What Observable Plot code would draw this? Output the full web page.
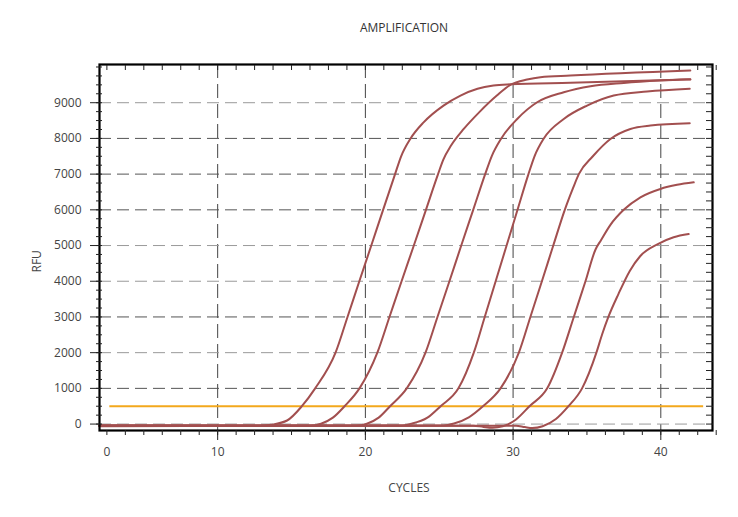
<!DOCTYPE html>
<html><head><meta charset="utf-8">
<script src="https://cdn.jsdelivr.net/npm/d3@7"></script>
<script src="https://cdn.jsdelivr.net/npm/@observablehq/plot@0.6"></script>
<style>
html,body{margin:0;padding:0;background:#fff;}
#chart svg{display:block;}
</style></head><body><div id="chart"></div>
<script>
const title = "AMPLIFICATION";
const xLabel = "CYCLES";
const yLabel = "RFU";
const xTickValues = [2.5, 10, 20, 30, 40];
const xTickLabels = ["0", "10", "20", "30", "40"];
const yTickValues = [0, 1000, 2000, 3000, 4000, 5000, 6000, 7000, 8000, 9000];
const yGridDark = [1000, 3000, 6000, 7000, 8000];
const yGridLight = [0, 2000, 4000, 5000, 9000];
const xGrid = [10, 20, 30, 40];
const threshold = 500;
const thresholdStart = 2.7, thresholdEnd = 42.9;

const curve1 = [[2,-60],[8,-55],[12.8,-55],[13.6,-20],[14.7,100],[15.7,500],[16.6,1000],[17.98,2000],[18.79,3000],[19.59,4000],[20.4,5000],[21.2,6000],[22.01,7000],[22.42,7500],[23.06,8000],[23.94,8450],[25.29,8920],[26.44,9200],[27.59,9390],[28.67,9480],[29.82,9515],[33.88,9560],[42,9650]];
const curve2 = [[2,-50],[10,-45],[16.3,-50],[17.0,10],[17.8,180],[18.59,500],[19.6,1000],[20.81,2000],[21.63,3000],[22.45,4000],[23.28,5000],[24.1,6000],[24.92,7000],[25.27,7400],[25.8,7800],[26.66,8265],[27.7,8730],[28.9,9200],[29.82,9500],[30.95,9650],[31.85,9715],[33.88,9760],[42,9900]];
const curve3 = [[2,-40],[12,-45],[19.4,-45],[20.1,10],[20.9,180],[21.67,500],[22.8,1000],[24.07,2000],[24.88,3000],[25.69,4000],[26.49,5000],[27.3,6000],[28.11,7000],[28.55,7500],[29.2,8000],[30.28,8545],[31.63,9012],[33.43,9293],[35.24,9463],[37.49,9555],[39.97,9620],[42,9655]];
const curve4 = [[2,-40],[15,-40],[22.4,-40],[23.1,10],[24.2,180],[25.09,500],[26.3,1000],[27.34,2000],[28.08,3000],[28.82,4000],[29.56,5000],[30.3,6000],[31.04,7000],[31.45,7500],[32.08,8000],[33.43,8545],[35.01,8920],[36.81,9200],[39.07,9313],[41.96,9390]];
const curve5 = [[2,-50],[18,-45],[25.3,-40],[26.0,15],[27.0,190],[27.96,500],[29.15,1000],[30.39,2000],[31.17,3000],[31.95,4000],[32.72,5000],[33.5,6000],[34.05,6600],[34.45,7000],[35.4,7500],[36.59,7985],[37.94,8265],[39.3,8360],[41.96,8424]];
const curve6 = [[2,-45],[20,-45],[27.3,-45],[28.0,-80],[28.6,-100],[29.3,-60],[30.2,130],[31.11,500],[32.31,1000],[33.32,2000],[34.11,3000],[34.9,4000],[35.58,4890],[35.95,5150],[36.59,5580],[37.49,6000],[38.62,6350],[39.97,6585],[41.1,6700],[42.23,6770]];
const curve7 = [[2,-45],[22,-45],[30.2,-45],[30.8,-85],[31.3,-110],[32.0,-60],[32.9,140],[33.75,500],[34.67,1000],[35.64,2000],[36.03,2515],[36.45,3000],[37.13,3640],[37.9,4290],[38.6,4700],[39.8,5040],[40.87,5230],[41.89,5320]];

const curves = [curve1, curve2, curve3, curve4, curve5, curve6, curve7];
const series = curves.flatMap((pts, i) => pts.map(([c, r]) => ({sample: i, cycle: c, rfu: r})));

const minorX = d3.range(2.5, 43.8, 1.25);
const minorY = d3.range(0, 10001, 250);
const blank = () => "";

const chart = Plot.plot({
  width: 738,
  height: 517,
  marginLeft: 99,
  marginRight: 26,
  marginTop: 64,
  marginBottom: 87,
  style: {fontFamily: "'Open Sans', sans-serif", fontSize: "12px", color: "#444", background: "white"},
  x: {domain: [2, 43.5], label: null},
  y: {domain: [-180, 10070], label: null},
  marks: [
    Plot.gridX({ticks: xGrid, stroke: "#444", strokeOpacity: 1, strokeDasharray: "14,6"}),
    Plot.gridY({ticks: yGridDark, stroke: "#555", strokeOpacity: 1, strokeDasharray: "12,6"}),
    Plot.gridY({ticks: yGridLight, stroke: "#9a9a9a", strokeOpacity: 1, strokeDasharray: "12,6"}),
    Plot.ruleY([threshold], {x1: thresholdStart, x2: thresholdEnd, stroke: "#f3a81c", strokeWidth: 2}),
    Plot.line(series, {x: "cycle", y: "rfu", z: "sample", stroke: "#a24f4f", strokeWidth: 2, curve: "monotone-x"}),
    Plot.frame({stroke: "black", strokeWidth: 2.2}),
    Plot.axisX({anchor: "bottom", ticks: minorX, tickSize: 5, tickFormat: blank, stroke: "#222"}),
    Plot.axisX({anchor: "bottom", ticks: xGrid, tickSize: 10, tickFormat: blank, stroke: "#222"}),
    Plot.axisX({anchor: "bottom", ticks: xTickValues, tickSize: 0, tickPadding: 17, fill: "#444",
      tickFormat: d => xTickLabels[xTickValues.indexOf(d)]}),
    Plot.axisX({anchor: "top", ticks: minorX, tickSize: -5, tickFormat: blank, stroke: "#222"}),
    Plot.axisY({anchor: "left", ticks: minorY, tickSize: 3, tickFormat: blank, stroke: "#222"}),
    Plot.axisY({anchor: "left", ticks: minorY, tickSize: -3, tickFormat: blank, stroke: "#222"}),
    Plot.axisY({anchor: "left", ticks: yTickValues, tickSize: 9, tickPadding: 9, fill: "#444",
      tickFormat: d => String(d), stroke: "#222"}),
    Plot.axisY({anchor: "right", ticks: minorY, tickSize: -7, tickFormat: blank, stroke: "#222"}),
    Plot.text([title], {frameAnchor: "top", dy: -41, dx: -2, fill: "#333", fontSize: 12}),
    Plot.text([xLabel], {frameAnchor: "bottom", dy: 61, dx: 3, fill: "#444", fontSize: 12}),
    Plot.text([yLabel], {frameAnchor: "left", dx: -62, dy: 25, rotate: -90, fill: "#444", fontSize: 12})
  ]
});
document.getElementById("chart").append(chart);
</script>
</body></html>
